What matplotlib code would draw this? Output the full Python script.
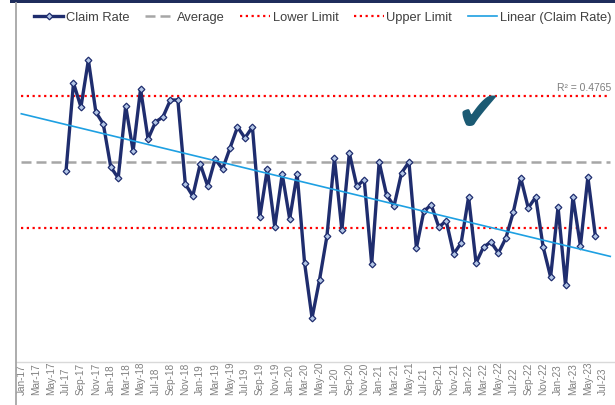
import numpy as np
import pandas as pd
import matplotlib
matplotlib.use('Agg')
import matplotlib.pyplot as plt
from matplotlib.lines import Line2D
from matplotlib.patches import Rectangle

plt.rcParams['font.family'] = ['Liberation Sans', 'DejaVu Sans']

# monthly claim rate, Jul-17 .. Jun-23 (arbitrary units)
claim_rate = [
    1.91, 2.79, 2.55, 3.02, 2.50, 2.38,
    1.95, 1.84, 2.56, 2.11, 2.73, 2.23, 2.40, 2.45, 2.62, 2.62, 1.78, 1.66,
    1.98, 1.76, 2.03, 1.93, 2.14, 2.35, 2.24, 2.35, 1.45, 1.93, 1.35, 1.88,
    1.43, 1.88, 0.99, 0.44, 0.82, 1.26, 2.04, 1.32, 2.09, 1.76, 1.82, 0.98,
    2.00, 1.67, 1.56, 1.89, 2.00, 1.14, 1.51, 1.57, 1.35, 1.41, 1.08, 1.19,
    1.65, 0.99, 1.15, 1.20, 1.09, 1.24, 1.50, 1.84, 1.54, 1.65, 1.15, 0.85,
    1.55, 0.77, 1.65, 1.16, 1.85, 1.26,
]
average = 2.00
upper_limit = 2.66
lower_limit = 1.34
r2_label = 'R² = 0.4765'

# axis runs from Jan-17; data starts Jul-17
axis_months = pd.date_range('2017-01-01', '2023-08-01', freq='MS')
data_start = 6
tick_idx = np.arange(0, len(axis_months), 2)
tick_labels = [axis_months[i].strftime('%b-%y') for i in tick_idx]

x = np.arange(data_start, data_start + len(claim_rate))
x_all = np.arange(0, len(axis_months))  # Jan-17 .. Aug-23

# linear trendline (6 periods back, 2 forward like excel)
slope, icpt = np.polyfit(x, claim_rate, 1)
trend = slope * x_all + icpt

W, H = 615, 405
fig = plt.figure(figsize=(W / 100, H / 100), dpi=100)
ax = fig.add_axes([16 / W, 43 / H, 1 - 16 / W, 359 / H])

navy = '#1f2d6e'
ax.plot(x_all, [average] * len(x_all), color='#a6a6a6', lw=1.8, ls=(0, (4, 2)))
ax.plot(x_all, [lower_limit] * len(x_all), color='#ff0000', lw=1.6, ls=(0, (1, 1.6)))
ax.plot(x_all, [upper_limit] * len(x_all), color='#ff0000', lw=1.6, ls=(0, (1, 1.6)))
ax.plot(x, claim_rate, color=navy, lw=2.4, marker='D', ms=3.4,
        mfc='#b4c7e7', mec=navy, mew=0.9, zorder=3)
ax.plot(x_all, trend, color='#1ea0e2', lw=1.2, zorder=4)

ax.set_xlim((16 - 21.3) / 7.455, (615 - 21.3) / 7.455)
ax.set_ylim(0, 3.59)
ax.set_yticks([])
for s in ['top', 'right', 'left']:
    ax.spines[s].set_visible(False)
ax.spines['bottom'].set_color('#d9d9d9')
ax.spines['bottom'].set_linewidth(1)

ax.set_xticks(tick_idx, tick_labels, rotation=90, va='bottom', ha='center',
              fontsize=7.2, color='#808080')
ax.tick_params(axis='x', length=0, pad=33 * 0.72)

# legend
handles = [
    Line2D([], [], color=navy, lw=2.4, marker='D', ms=3.4, mfc='#b4c7e7', mec=navy, mew=0.9),
    Line2D([], [], color='#a6a6a6', lw=1.8, ls=(0, (4, 2))),
    Line2D([], [], color='#ff0000', lw=1.6, ls=(0, (1, 1.6))),
    Line2D([], [], color='#ff0000', lw=1.6, ls=(0, (1, 1.6))),
    Line2D([], [], color='#1ea0e2', lw=1.2),
]
names = ['Claim Rate', 'Average', 'Lower Limit', 'Upper Limit', 'Linear (Claim Rate)']
fig.legend(handles, names, loc='center', bbox_to_anchor=(322.5 / W, 1 - 18 / H), ncol=5,
           frameon=False, fontsize=9.3, handlelength=2.3, handletextpad=0.2,
           columnspacing=1.2, labelcolor='#404040')

fig.text(611 / W, 1 - 88 / H, r2_label, ha='right', va='center', fontsize=7.5, color='#7f7f7f')
fig.text(479 / W, 1 - 116 / H, '✔', ha='center', va='center', fontsize=40,
         color='#1b5a73', family='DejaVu Sans')

# chart frame bits
fig.add_artist(Line2D([16 / W, 16 / W], [0, 1 - 3 / H], color='#a6a6a6', lw=1.3))
fig.add_artist(Rectangle((10 / W, 1 - 2.5 / H), 1, 2.5 / H, transform=fig.transFigure,
                         color='#1f2d5c', lw=0))

fig.savefig('out.png', dpi=100)
